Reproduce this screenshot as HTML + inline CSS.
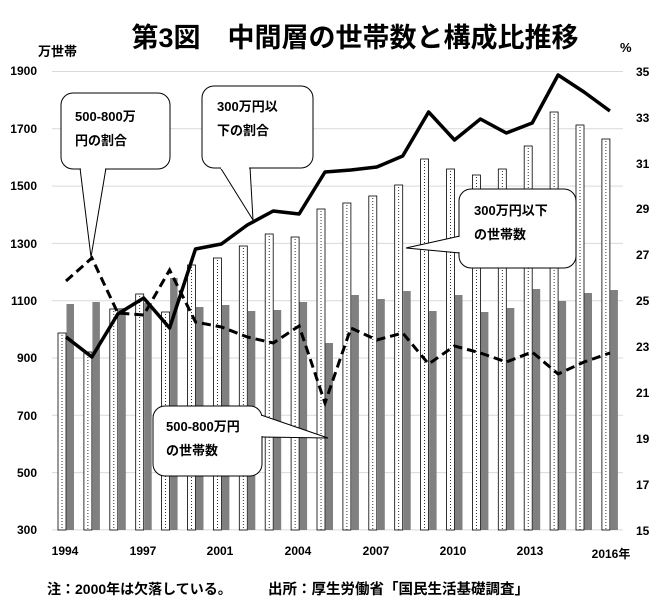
<!DOCTYPE html>
<html><head><meta charset="utf-8"><style>
html,body{margin:0;padding:0;background:#fff}
svg{display:block}
text{font-family:"Liberation Sans","Noto Sans CJK JP",sans-serif;font-weight:bold;fill:#000}
</style></head><body>
<svg id="s" width="658" height="602" viewBox="0 0 658 602" xmlns="http://www.w3.org/2000/svg">
<rect width="658" height="602" fill="#fff"/>
<g id="grid" stroke="#d9d9d9" stroke-width="1"></g>
<g id="bars"></g>
<g id="lines"></g>
<text x="355" y="47" font-size="27" text-anchor="middle">第3図　中間層の世帯数と構成比推移</text>
<text x="38" y="56" font-size="13">万世帯</text>
<text x="620" y="52" font-size="13">%</text>
<g font-size="12" text-anchor="end">
<text x="37" y="75">1900</text><text x="37" y="133">1700</text><text x="37" y="190">1500</text><text x="37" y="248">1300</text><text x="37" y="305">1100</text><text x="37" y="362">900</text><text x="37" y="420">700</text><text x="37" y="477">500</text><text x="37" y="534">300</text>
</g>
<g font-size="12" text-anchor="start">
<text x="636" y="76">35</text><text x="636" y="122">33</text><text x="636" y="168">31</text><text x="636" y="213">29</text><text x="636" y="259">27</text><text x="636" y="305">25</text><text x="636" y="351">23</text><text x="636" y="397">21</text><text x="636" y="443">19</text><text x="636" y="489">17</text><text x="636" y="535">15</text>
</g>
<g font-size="12" text-anchor="middle">
<text x="65" y="555">1994</text><text x="143" y="555">1997</text><text x="220" y="555">2001</text><text x="298" y="555">2004</text><text x="376" y="555">2007</text><text x="453" y="555">2010</text><text x="530" y="555">2013</text><text x="611" y="558">2016年</text>
</g>
<text x="47" y="594" font-size="14">注：2000年は欠落している。</text>
<text x="268" y="594" font-size="14.5">出所：厚生労働省「国民生活基礎調査」</text>
<g id="callouts" fill="#fff" stroke="#000" stroke-width="1"></g>
<g font-size="13">
<text x="75" y="121">500-800万</text><text x="75" y="145">円の割合</text>
<text x="217" y="111">300万円以</text><text x="217" y="135">下の割合</text>
<text x="166" y="431">500-800万円</text><text x="166" y="455">の世帯数</text>
<text x="474" y="215">300万円以下</text><text x="474" y="239">の世帯数</text>
</g>
</svg>
<script>
var ns="http://www.w3.org/2000/svg";
function el(p,t,a){var e=document.createElementNS(ns,t);for(var k in a)e.setAttribute(k,a[k]);document.getElementById(p).appendChild(e);return e;}
for(var i=0;i<9;i++){var y=71.5+i*57.3;el('grid','line',{x1:52,x2:623,y1:y,y2:y});}
var W=[333,352,309,294,312,265,258,246,234,237,209,203,196,185,159,169,175,169,146,112,125,139];
var G=[304,302,308,303,278,307,305,311,310,302,343,295,299,291,311,295,312,308,289,301,293,290];
var S=[337,357,314,298,328,249,244,225,211,214,172,170,167,156,112,140,119,133,123,75,92,111];
var D=[281,258,313,315,270,322,327,337,343,326,403,328,340,333,364,346,353,362,352,374,362,353];
var sp="",dp="";
for(var i=0;i<22;i++){var c=66+i*25.9;
el('bars','rect',{x:c-8,y:W[i],width:8,height:530-W[i],fill:'#fff',stroke:'#000','stroke-width':0.8});
el('bars','line',{x1:c-4,x2:c-4,y1:W[i]+2,y2:530,stroke:'#000','stroke-width':0.8,'stroke-dasharray':'1,2'});
el('bars','rect',{x:c+0.5,y:G[i],width:7.5,height:530-G[i],fill:'#808080'});
sp+=(i?"L":"M")+c+","+S[i];dp+=(i?"L":"M")+c+","+D[i];}
el('lines','path',{d:dp,fill:'none',stroke:'#000','stroke-width':3,'stroke-dasharray':'9,5'});
el('lines','path',{d:sp,fill:'none',stroke:'#000','stroke-width':3.5,'stroke-linejoin':'round'});
function co(x1,y1,x2,y2,ptr){el('callouts','path',{d:ptr,fill:'#fff',stroke:'#000'});
el('callouts','rect',{x:x1,y:y1,width:x2-x1,height:y2-y1,rx:12,ry:12});}
co(61,93,170,169,"M80,168L91,257L106,168");
co(202,86,313,168,"M220,167L253,220L250,167");
co(153,406,262,476,"M261,415L328,438L261,437");
co(459,189,576,268,"M460,236L406,248L460,253");
function cover(x,y,w,h){el('callouts','rect',{x:x,y:y,width:w,height:h,fill:'#fff',stroke:'none'});}
cover(81,166,24,4);cover(221,165,28,4);cover(259,416,4,20);cover(458,237,4,15);
</script>
</body></html>
